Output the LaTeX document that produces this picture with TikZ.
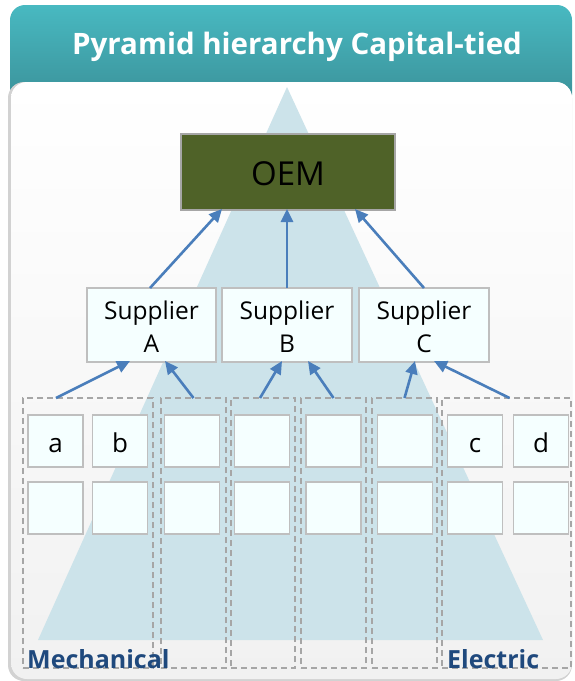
\documentclass[tikz,border=0pt]{standalone}
\usepackage{fontspec}
\setmainfont{Open Sans}
\usetikzlibrary{arrows.meta,calc}

\definecolor{tealtop}{HTML}{48B9C1}
\definecolor{tealbot}{HTML}{3A8E96}
\definecolor{pyramidblue}{HTML}{CCE3EA}
\definecolor{oemgreen}{HTML}{4F6228}
\definecolor{boxfill}{HTML}{F5FFFF}
\definecolor{boxline}{HTML}{BFBFBF}
\definecolor{dashgray}{HTML}{A6A6A6}
\definecolor{arrowblue}{HTML}{4A7EBB}
\definecolor{labelblue}{HTML}{1F497D}
\definecolor{panelgray}{HTML}{F1F1F1}

\tikzset{
  oembox/.style={draw=dashgray, line width=1.5pt, fill=oemgreen, inner sep=0pt, outer sep=0pt,
    minimum width=214pt, minimum height=76pt, text height=26pt, text depth=0pt,
    font=\fontsize{33}{36}\selectfont},
  supbox/.style={draw=boxline, line width=1.5pt, fill=boxfill, inner sep=0pt, outer sep=0pt,
    minimum height=74pt, align=center, text height=54pt, text depth=0pt,
    font=\fontsize{24.5}{33}\selectfont},
  cell/.style={draw=boxline, line width=1.5pt, fill=boxfill, inner sep=0pt, outer sep=0pt,
    minimum width=55pt, minimum height=52pt, text height=22pt, text depth=0pt,
    font=\fontsize{26}{28}\selectfont},
  group/.style={draw=dashgray, line width=1.1pt, dash pattern=on 6pt off 4pt, inner sep=0pt,
    outer sep=0pt, minimum height=270pt},
  link/.style={draw=arrowblue, line width=2.6pt, -{Triangle[length=13pt,width=12pt]}},
  grouplabel/.style={text=labelblue, font=\bfseries\fontsize{25}{28}\selectfont, inner sep=0pt, anchor=base west}
}

\begin{document}
\begin{tikzpicture}[x=1pt,y=-1pt]
\useasboundingbox (0,0) rectangle (574,681);

% header band
\shade[top color=tealtop, bottom color=tealbot, rounded corners=15pt] (10,5) rectangle (572,110);
% text panel with a soft shadow
\fill[gray!35, rounded corners=16pt] (8,82) rectangle (572,681);
\shade[top color=white, bottom color=panelgray, rounded corners=16pt] (11,82) rectangle (572,679);

% title
\node[text=white, font=\bfseries\fontsize{29.5}{32}\selectfont] (title) at (297,47) {Pyramid hierarchy Capital-tied};

% pyramid
\fill[pyramidblue] (287,87) -- (543,640) -- (38,640) -- cycle;

% OEM and suppliers
\node[oembox] (oem) at (288,172) {OEM};
\node[supbox, minimum width=129pt] (sA) at (151.5,325) {Supplier\\A};
\node[supbox, minimum width=130pt] (sB) at (287,325) {Supplier\\B};
\node[supbox, minimum width=130pt] (sC) at (424,325) {Supplier\\C};

% dashed groups
\node[group, minimum width=130pt] (g1) at (88,533) {};
\node[group, minimum width=65pt] (g2) at (193.5,533) {};
\node[group, minimum width=64pt] (g3) at (263,533) {};
\node[group, minimum width=65pt] (g4) at (333.5,533) {};
\node[group, minimum width=65pt] (g5) at (404.5,533) {};
\node[group, minimum width=129pt] (g6) at (506.5,533) {};

% part cells
\node[cell] (c1a) at (55.5,441) {a};
\node[cell] (c2a) at (120,441) {b};
\node[cell] (c3a) at (192,441) {};
\node[cell] (c4a) at (262,441) {};
\node[cell] (c5a) at (333.5,441) {};
\node[cell] (c6a) at (405,441) {};
\node[cell] (c7a) at (475,441) {c};
\node[cell] (c8a) at (541,441) {d};
\node[cell] (c1b) at (55.5,508) {};
\node[cell] (c2b) at (120,508) {};
\node[cell] (c3b) at (192,508) {};
\node[cell] (c4b) at (262,508) {};
\node[cell] (c5b) at (333.5,508) {};
\node[cell] (c6b) at (405,508) {};
\node[cell] (c7b) at (475,508) {};
\node[cell] (c8b) at (541,508) {};

% connectors
\draw[link] ([xshift=-32pt]g1.north) -- ([xshift=-21.5pt,yshift=1pt]sA.south);
\draw[link] (g2.north) -- ([xshift=13.5pt,yshift=1pt]sA.south);
\draw[link] ([xshift=-3pt]g3.north) -- ([xshift=-5pt,yshift=1pt]sB.south);
\draw[link] (g4.north) -- ([xshift=21pt,yshift=1pt]sB.south);
\draw[link] (g5.north) -- ([xshift=-9pt,yshift=1pt]sC.south);
\draw[link] ([xshift=3pt]g6.north) -- ([xshift=10pt,yshift=1pt]sC.south);
\draw[link] ([xshift=-1.5pt]sA.north) -- ([xshift=-66pt,yshift=1pt]oem.south);
\draw[link] (sB.north) -- ([xshift=-1pt,yshift=1pt]oem.south);
\draw[link] (sC.north) -- ([xshift=67pt,yshift=1pt]oem.south);

% group labels
\node[grouplabel] (mech) at (27,668) {Mechanical};
\node[grouplabel] (elec) at (447,668) {Electric};
\end{tikzpicture}
\end{document}
